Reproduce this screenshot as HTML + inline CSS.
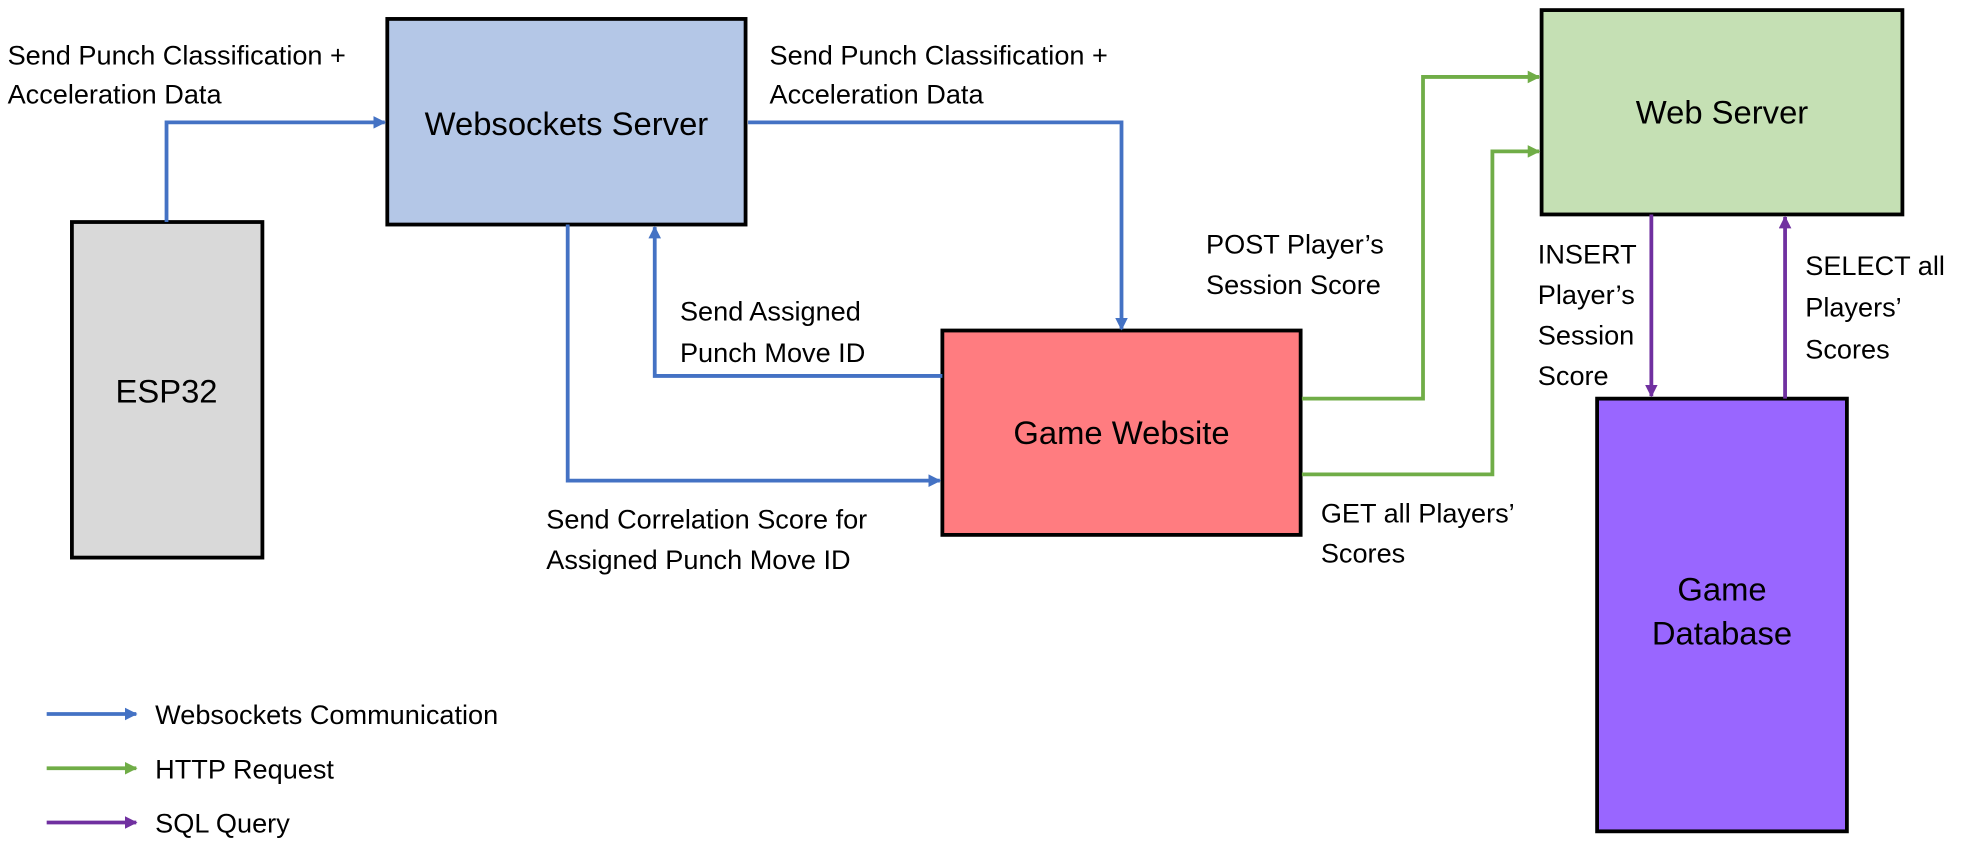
<!DOCTYPE html>
<html><head><meta charset="utf-8"><style>html,body{margin:0;padding:0;background:#fff}svg{display:block}</style></head>
<body>
<svg width="1968" height="849" viewBox="0 0 1560 673" preserveAspectRatio="none" xmlns="http://www.w3.org/2000/svg" font-family="Liberation Sans, sans-serif">
<defs>
<marker id="ab" markerWidth="10" markerHeight="10" refX="9" refY="5" orient="auto" markerUnits="userSpaceOnUse"><path d="M0,0 L10,5 L0,10 z" fill="#4472c4"/></marker>
<marker id="ag" markerWidth="10" markerHeight="10" refX="9" refY="5" orient="auto" markerUnits="userSpaceOnUse"><path d="M0,0 L10,5 L0,10 z" fill="#70ad47"/></marker>
<marker id="ap" markerWidth="10" markerHeight="10" refX="9" refY="5" orient="auto" markerUnits="userSpaceOnUse"><path d="M0,0 L10,5 L0,10 z" fill="#7030a0"/></marker>
</defs>
<g stroke="#000" stroke-width="3">
<rect x="57" y="176" width="151" height="266" fill="#d9d9d9"/>
<rect x="307" y="15" width="284" height="163" fill="#b4c7e7"/>
<rect x="747" y="262" width="284" height="162" fill="#ff7c80"/>
<rect x="1222" y="8" width="286" height="162" fill="#c5e0b4"/>
<rect x="1266" y="316" width="198" height="343" fill="#9966ff"/>
</g>
<g fill="none" stroke-width="3">
<path d="M132,176 V97 H305" stroke="#4472c4" marker-end="url(#ab)"/>
<path d="M593,97 H889 V261" stroke="#4472c4" marker-end="url(#ab)"/>
<path d="M747,298 H519 V180" stroke="#4472c4" marker-end="url(#ab)"/>
<path d="M450,178 V381 H745" stroke="#4472c4" marker-end="url(#ab)"/>
<path d="M1032,316 H1128 V61 H1220" stroke="#70ad47" marker-end="url(#ag)"/>
<path d="M1032,376 H1183 V120 H1220" stroke="#70ad47" marker-end="url(#ag)"/>
<path d="M1309,170 V314" stroke="#7030a0" marker-end="url(#ap)"/>
<path d="M1415,316 V172" stroke="#7030a0" marker-end="url(#ap)"/>
<path d="M37,566 H108" stroke="#4472c4" marker-end="url(#ab)"/>
<path d="M37,609 H108" stroke="#70ad47" marker-end="url(#ag)"/>
<path d="M37,652 H108" stroke="#7030a0" marker-end="url(#ap)"/>
</g>
<g font-size="26" text-anchor="middle" fill="#000">
<text x="132" y="319">ESP32</text>
<text x="449" y="107">Websockets Server</text>
<text x="889" y="352">Game Website</text>
<text x="1365" y="98">Web Server</text>
<text x="1365" y="476">Game</text>
<text x="1365" y="511">Database</text>
</g>
<g font-size="21.5" fill="#000">
<text x="6" y="51">Send Punch Classification +</text>
<text x="6" y="82">Acceleration Data</text>
<text x="610" y="51">Send Punch Classification +</text>
<text x="610" y="82">Acceleration Data</text>
<text x="956" y="201">POST Player’s</text>
<text x="956" y="233">Session Score</text>
<text x="539" y="254">Send Assigned</text>
<text x="539" y="287">Punch Move ID</text>
<text x="433" y="419">Send Correlation Score for</text>
<text x="433" y="451">Assigned Punch Move ID</text>
<text x="1047" y="414">GET all Players’</text>
<text x="1047" y="446">Scores</text>
<text x="1219" y="209">INSERT</text>
<text x="1219" y="241">Player’s</text>
<text x="1219" y="273">Session</text>
<text x="1219" y="305">Score</text>
<text x="1431" y="218">SELECT all</text>
<text x="1431" y="251">Players’</text>
<text x="1431" y="284">Scores</text>
<text x="123" y="574">Websockets Communication</text>
<text x="123" y="617">HTTP Request</text>
<text x="123" y="660">SQL Query</text>
</g>
</svg>
</body></html>
